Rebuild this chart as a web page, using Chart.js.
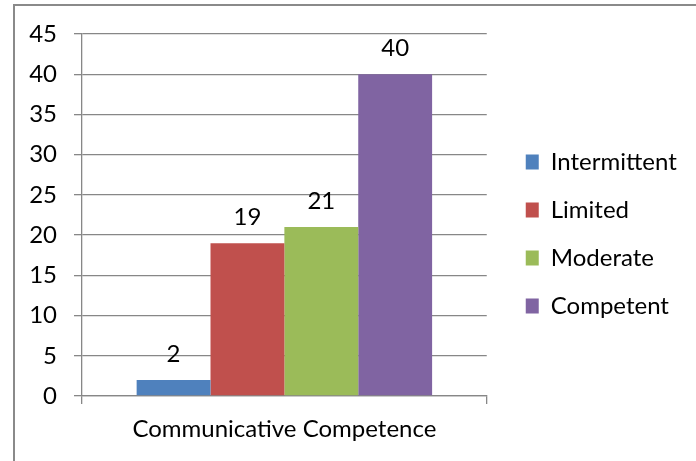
<!DOCTYPE html>
<html>
<head>
<meta charset="utf-8">
<script src="https://cdn.jsdelivr.net/npm/chart.js@4.4.1/dist/chart.umd.min.js"></script>
<style>
  html, body { margin: 0; padding: 0; background: #fff; }
  #wrap { width: 696px; height: 461px; }
</style>
</head>
<body>
<div id="wrap"><canvas id="myChart" width="696" height="461"></canvas></div>
<script>
// données du graphique
const categories = ['Communicative Competence'];
const seriesNames = ['Intermittent', 'Limited', 'Moderate', 'Competent'];
const seriesValues = [2, 19, 21, 40];
const seriesColors = ['#4F81BD', '#C0504D', '#9BBB59', '#8064A2'];
const yMin = 0;
const yMax = 45;
const yStep = 5;

const gris = '#878787';
const police = 'Lato';
const taille = 24;

// cadre gris autour du graphique (haut + gauche)
const cadre = {
    id: 'cadre',
    beforeDraw(chart) {
        const ctx = chart.ctx;
        ctx.save();
        ctx.strokeStyle = '#8a8a8a';
        ctx.lineWidth = 2;
        ctx.beginPath();
        ctx.moveTo(14, 461);
        ctx.lineTo(14, 5);
        ctx.lineTo(696, 5);
        ctx.stroke();
        ctx.restore();
    }
};

// valeurs au-dessus des barres
const etiquettes = {
    id: 'etiquettes',
    afterDatasetsDraw(chart) {
        const ctx = chart.ctx;
        ctx.save();
        ctx.font = taille + 'px ' + police;
        ctx.fillStyle = '#000';
        ctx.textAlign = 'center';
        ctx.textBaseline = 'middle';
        chart.data.datasets.forEach((ds, i) => {
            const meta = chart.getDatasetMeta(i);
            meta.data.forEach((bar, j) => {
                ctx.fillText(ds.data[j], bar.x, bar.y - 26);
            });
        });
        ctx.restore();
    }
};

// place la légende (décalage à droite + hauteur fixe)
const placeLegende = {
    id: 'placeLegende',
    afterLayout(chart) {
        chart.legend.left = chart.chartArea.right + 15;
        chart.legend.right = chart.width;
        chart.legend.top = 34;
        chart.legend.bottom = 434;
    }
};

const datasets = [];
for (let i = 0; i < seriesNames.length; i++) {
    datasets.push({
        label: seriesNames[i],
        data: [seriesValues[i]],
        backgroundColor: seriesColors[i],
        borderWidth: 0
    });
}

new Chart(document.getElementById('myChart'), {
    type: 'bar',
    data: {
        labels: categories,
        datasets: datasets
    },
    options: {
        responsive: false,
        animation: false,
        devicePixelRatio: 1,
        categoryPercentage: 0.73,
        barPercentage: 1,
        layout: {
            padding: { left: 0, top: 34, bottom: 15, right: 47 }
        },
        plugins: {
            tooltip: { enabled: false },
            legend: {
                position: 'right',
                labels: {
                    boxWidth: 13,
                    boxHeight: 15,
                    padding: 24,
                    color: '#000',
                    font: { family: police, size: taille }
                }
            }
        },
        scales: {
            x: {
                grid: {
                    offset: true,
                    drawOnChartArea: false,
                    drawTicks: true,
                    tickLength: 8,
                    color: gris,
                    lineWidth: 1.3
                },
                border: { display: true, color: gris, width: 1.3 },
                ticks: {
                    color: '#000',
                    padding: 11,
                    font: { family: police, size: taille }
                },
                afterFit(scale) { scale.height = 50; }
            },
            y: {
                min: yMin,
                max: yMax,
                grid: {
                    color: gris,
                    lineWidth: 1.3,
                    tickLength: 8
                },
                border: { display: true, color: gris, width: 1.3 },
                ticks: {
                    stepSize: yStep,
                    color: '#000',
                    padding: 17,
                    font: { family: police, size: taille }
                },
                afterFit(scale) { scale.width = 82; }
            }
        }
    },
    plugins: [cadre, etiquettes, placeLegende]
});
</script>
</body>
</html>
